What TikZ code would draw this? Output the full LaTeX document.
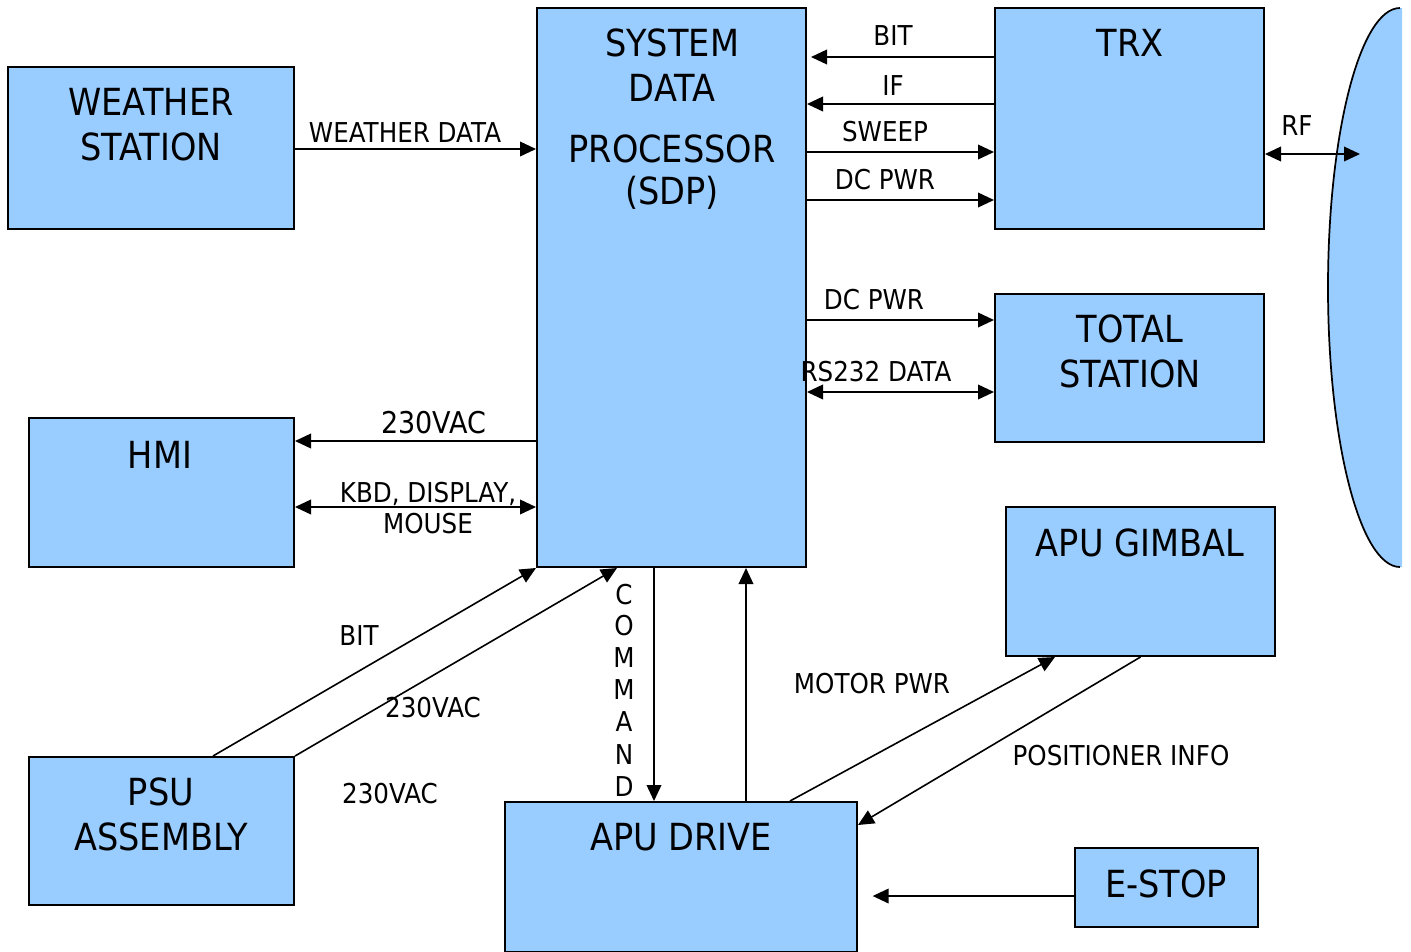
\documentclass[tikz,border=0pt]{standalone}
\usepackage{fontspec}
\setmainfont[FakeStretch=0.9]{DejaVu Sans}
\usetikzlibrary{arrows.meta,fit,calc}
\definecolor{boxblue}{RGB}{153,204,255}
\begin{document}
\begin{tikzpicture}[x=0.75pt,y=-0.75pt,
  box/.style={draw=black,fill=boxblue,line width=1.5pt,inner sep=0pt},
  big/.style={font=\fontsize{28}{32}\selectfont,inner sep=0pt},
  mid/.style={font=\fontsize{22.5}{26}\selectfont,inner sep=0pt},
  lbl/.style={font=\fontsize{20.5}{24}\selectfont,inner sep=0pt},
  conn/.style={line width=1.2pt},
  arr/.style={conn,-{Triangle[length=12pt,width=11pt]}},
  darr/.style={conn,{Triangle[length=12pt,width=11pt]}-{Triangle[length=12pt,width=11pt]}}]
\useasboundingbox (0,0) rectangle (1411,951);
% antenna
\fill[boxblue] (1402,8) -- (1400,8) arc[start angle=-90,end angle=-270,x radius=72,y radius=279.5] -- (1402,567) -- cycle;
\draw[line width=1.3pt] (1400,8) arc[start angle=-90,end angle=-270,x radius=72,y radius=279.5];
% boxes
\node[box,fit={(537,8) (806,567)}] (sdp) {};
\node[box,fit={(8,67) (294,229)}] (ws) {};
\node[box,fit={(995,8) (1264,229)}] (trx) {};
\node[box,fit={(995,294) (1264,442)}] (ts) {};
\node[box,fit={(29,418) (294,567)}] (hmi) {};
\node[box,fit={(1006,507) (1275,656)}] (gim) {};
\node[box,fit={(29,757) (294,905)}] (psu) {};
\node[box,fit={(505,802) (857,952)}] (drv) {};
\node[box,fit={(1075,848) (1258,927)}] (est) {};
% box texts
\node[big] (t1) at (672,43) {SYSTEM};
\node[big] (t2) at (672,88) {DATA};
\node[big] (t3) at (672,149) {PROCESSOR};
\node[big] (t4) at (672,193) {(SDP)};
\node[big] (t5) at (151,102) {WEATHER};
\node[big] (t6) at (151,147) {STATION};
\node[big] (t7) at (1130,43) {TRX};
\node[big] (t8) at (1130,329) {TOTAL};
\node[big] (t9) at (1130,374) {STATION};
\node[big] (t10) at (160,455) {HMI};
\node[big] (t11) at (1140,543) {APU GIMBAL};
\node[big] (t12) at (161,792) {PSU};
\node[big] (t13) at (161,837) {ASSEMBLY};
\node[big] (t14) at (681,837) {APU DRIVE};
\node[big] (t15) at (1166,884) {E-STOP};
% connectors
\draw[arr,shorten >=3pt] (trx.west |- 0,57) -- (sdp.east |- 0,57);
\draw[arr] (trx.west |- 0,104) -- (sdp.east |- 0,104);
\draw[arr] (sdp.east |- 0,152) -- (trx.west |- 0,152);
\draw[arr] (sdp.east |- 0,200) -- (trx.west |- 0,200);
\draw[arr] (sdp.east |- 0,320) -- (ts.west |- 0,320);
\draw[darr] (sdp.east |- 0,392) -- (ts.west |- 0,392);
\coordinate (rfend) at (1360,154);
\draw[darr] (trx.east |- 0,154) -- (rfend);
\draw[arr] (ws.east |- 0,149) -- (sdp.west |- 0,149);
\draw[arr] (sdp.west |- 0,441) -- (hmi.east |- 0,441);
\draw[darr] (hmi.east |- 0,507) -- (sdp.west |- 0,507);
\draw[arr] (psu.north -| 213,0) -- (sdp.south west);
\draw[arr] (psu.north east) -- (sdp.south -| 617,0);
\draw[arr] (sdp.south -| 654,0) -- (drv.north -| 654,0);
\draw[arr] (drv.north -| 746,0) -- (sdp.south -| 746,0);
\draw[arr] (drv.north -| 790,0) -- (gim.south -| 1055,0);
\draw[arr] (gim.south) -- (drv.east |- 0,825);
\draw[arr,shorten >=11pt] (est.west |- 0,896) -- (drv.east |- 0,896);
% labels
\node[lbl] (l1) at (893,36) {BIT};
\node[lbl] (l2) at (893,86) {IF};
\node[lbl] (l3) at (885,132) {SWEEP};
\node[lbl] (l4) at (885,180) {DC PWR};
\node[lbl] (l5) at (874,300) {DC PWR};
\node[lbl] (l6) at (876,372) {RS232 DATA};
\node[lbl] (l7) at (1297,126) {RF};
\node[lbl] (l8) at (405,133) {WEATHER DATA};
\node[mid] (l9) at (434,423) {230VAC};
\node[lbl,anchor=base] (l10) at (428,502) {KBD, DISPLAY,};
\node[lbl] (l11) at (428,524) {MOUSE};
\node[lbl] (l12) at (359,636) {BIT};
\node[lbl] (l13) at (433,708) {230VAC};
\node[lbl] (l14) at (390,794) {230VAC};
\node[lbl] (l15) at (872,684) {MOTOR PWR};
\node[lbl] (l16) at (1121,756) {POSITIONER INFO};
\node[lbl] (c1) at (624,595) {C};
\node[lbl] (c2) at (624,626) {O};
\node[lbl] (c3) at (624,658) {M};
\node[lbl] (c4) at (624,690) {M};
\node[lbl] (c5) at (624,722) {A};
\node[lbl] (c6) at (624,755) {N};
\node[lbl] (c7) at (624,787) {D};
\end{tikzpicture}
\end{document}
